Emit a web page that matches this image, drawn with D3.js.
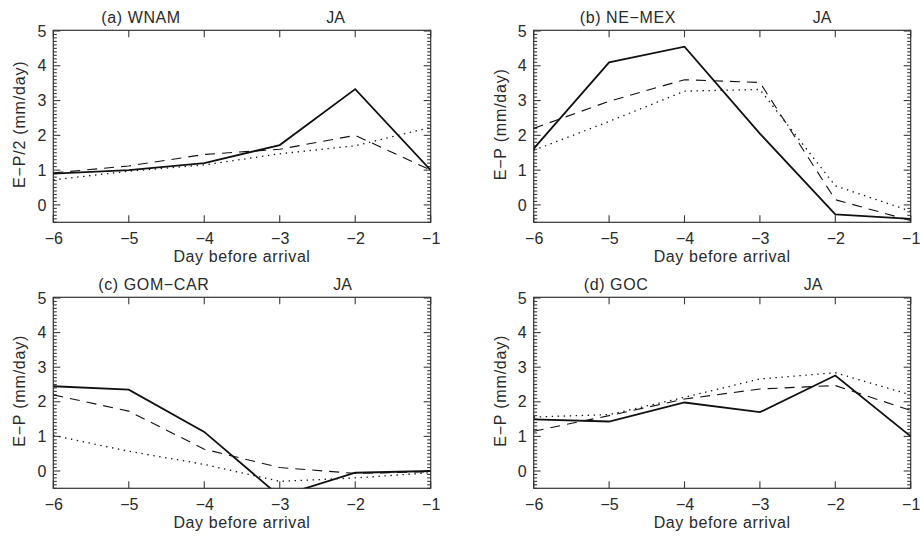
<!DOCTYPE html>
<html>
<head>
<meta charset="utf-8">
<script src="https://cdn.jsdelivr.net/npm/d3@7"></script>
<style>
  body { margin: 0; background: #fff; }
  text { font-family: "Liberation Sans", Arial, sans-serif; fill: #2a2a2a; }
</style>
</head>
<body>
<svg width="920" height="539"></svg>
<script>
// Day before arrival
const days = [-6, -5, -4, -3, -2, -1];

const panelTitles = ["(a) WNAM", "(b) NE\u2212MEX", "(c) GOM\u2212CAR", "(d) GOC"];
const seasonLabel = "JA";
const yTitles = ["E\u2212P/2 (mm/day)", "E\u2212P (mm/day)", "E\u2212P (mm/day)", "E\u2212P (mm/day)"];
const xTitle = "Day before arrival";
const yMajorTicks = [0, 1, 2, 3, 4, 5];

// series per panel: solid, dashed, dotted
const solidA  = [0.90, 1.00, 1.20, 1.72, 3.33, 1.00];
const dashedA = [0.92, 1.12, 1.45, 1.60, 2.00, 1.00];
const dottedA = [0.72, 0.97, 1.15, 1.47, 1.70, 2.23];

const solidB  = [1.62, 4.10, 4.55, 2.05, -0.27, -0.40];
const dashedB = [2.20, 2.98, 3.60, 3.52, 0.15, -0.45];
const dottedB = [1.57, 2.40, 3.27, 3.32, 0.55, -0.18];

const solidC  = [2.45, 2.35, 1.13, -0.73, -0.05, 0.00];
const dashedC = [2.20, 1.73, 0.63, 0.10, -0.07, -0.02];
const dottedC = [1.03, 0.57, 0.19, -0.30, -0.20, -0.05];

const solidD  = [1.49, 1.43, 1.98, 1.70, 2.76, 1.00];
const dashedD = [1.15, 1.60, 2.08, 2.37, 2.47, 1.75];
const dottedD = [1.56, 1.63, 2.13, 2.66, 2.84, 2.20];

const panelData = [
    [solidA, dashedA, dottedA],
    [solidB, dashedB, dottedB],
    [solidC, dashedC, dottedC],
    [solidD, dashedD, dottedD]
];

// layout
const panels = [
    {left: 53.3,  top: 30.3,  w: 377.4, h: 192, titleX: 48, jaX: 273},
    {left: 533.7, top: 30.3,  w: 377,   h: 192, titleX: 46, jaX: 279},
    {left: 53.3,  top: 297.3, w: 377.4, h: 191, titleX: 45, jaX: 280},
    {left: 533.7, top: 297.3, w: 377,   h: 191, titleX: 50, jaX: 270}
];
const lineStyles = [
    {width: 1.8, dash: null},
    {width: 1.1, dash: "10,7"},
    {width: 1.3, dash: "1.4,4.6"}
];
const tickColor = "#3a3a3a";

const svg = d3.select("svg");

panels.forEach((p, i) => {
    const g = svg.append("g")
        .attr("transform", `translate(${p.left}, ${p.top})`);

    const x = d3.scaleLinear().domain([-6, -1]).range([0, p.w]);
    const y = d3.scaleLinear().domain([-0.5, 5.02]).range([p.h, 0]);

    // clip so lines don't leave the frame
    g.append("clipPath").attr("id", "clip" + i)
        .append("rect").attr("width", p.w).attr("height", p.h);

    // tick labels from the axes, tick marks drawn below
    const xb = g.append("g")
        .attr("transform", `translate(0, ${p.h})`)
        .call(d3.axisBottom(x).tickValues(days).tickSize(0).tickPadding(10)
            .tickFormat(d => "\u2212" + Math.abs(d)));
    const yl = g.append("g")
        .call(d3.axisLeft(y).tickValues(yMajorTicks).tickSize(0).tickPadding(7)
            .tickFormat(d3.format("d")));

    [xb, yl].forEach(a => {
        a.select(".domain").remove();
        a.selectAll("text")
            .style("font-family", "'Liberation Sans', Arial, sans-serif")
            .attr("font-size", "16px").attr("fill", "#2a2a2a");
    });

    // x major ticks, bottom and top, pointing inward
    const ticks = g.append("g").attr("stroke", tickColor).attr("stroke-width", 1.1);
    ticks.selectAll(".xt-b").data(days).join("line")
        .attr("x1", d => x(d)).attr("x2", d => x(d))
        .attr("y1", p.h).attr("y2", p.h - 7);
    ticks.selectAll(".xt-t").data(days).join("line")
        .attr("x1", d => x(d)).attr("x2", d => x(d))
        .attr("y1", 0).attr("y2", 7);

    // y minor + major ticks on both sides
    const minor = d3.range(-5, 51).map(v => v / 10);
    const yTicks = minor.map(v => ({v: v, len: Math.abs(v - Math.round(v)) < 1e-6 ? 7 : 3.5}));
    ticks.selectAll(".yt-l").data(yTicks).join("line")
        .attr("x1", 0).attr("x2", d => d.len)
        .attr("y1", d => y(d.v)).attr("y2", d => y(d.v));
    ticks.selectAll(".yt-r").data(yTicks).join("line")
        .attr("x1", p.w).attr("x2", d => p.w - d.len)
        .attr("y1", d => y(d.v)).attr("y2", d => y(d.v));

    // frame
    g.append("rect")
        .attr("width", p.w).attr("height", p.h)
        .attr("fill", "none").attr("stroke", "#333").attr("stroke-width", 1.2);

    // series lines
    const line = d3.line().x((d, k) => x(days[k])).y(d => y(d));
    panelData[i].forEach((series, s) => {
        g.append("path")
            .datum(series)
            .attr("d", line)
            .attr("clip-path", `url(#clip${i})`)
            .attr("fill", "none")
            .attr("stroke", "#111")
            .attr("stroke-width", lineStyles[s].width)
            .attr("stroke-dasharray", lineStyles[s].dash);
    });

    // titles
    g.append("text")
        .attr("x", p.titleX).attr("y", -7)
        .attr("font-size", "16px").attr("letter-spacing", "0.6px")
        .text(panelTitles[i]);
    g.append("text")
        .attr("x", p.jaX).attr("y", -7)
        .attr("font-size", "16px")
        .text(seasonLabel);

    g.append("text")
        .attr("x", p.w / 2).attr("y", p.h + 40)
        .attr("font-size", "16px").attr("letter-spacing", "0.6px")
        .attr("text-anchor", "middle")
        .text(xTitle);

    g.append("text")
        .attr("x", -p.h / 2 + 2).attr("y", -28)
        .attr("font-size", "16px").attr("letter-spacing", "0.8px")
        .attr("text-anchor", "middle")
        .attr("transform", "rotate(-90)")
        .text(yTitles[i]);
});
</script>
</body>
</html>
